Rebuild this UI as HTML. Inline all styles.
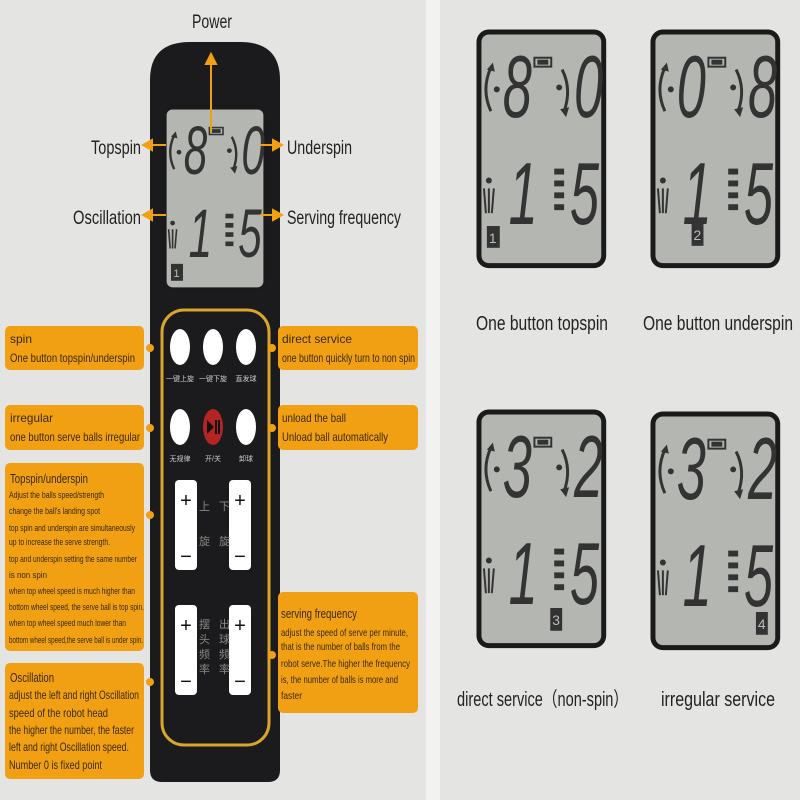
<!DOCTYPE html>
<html><head><meta charset="utf-8"><style>
body{margin:0;width:800px;height:800px;background:#e4e4e2;position:relative;overflow:hidden;font-family:"Liberation Sans","Noto Sans CJK SC",sans-serif}
.abs{position:absolute}
</style></head><body>
<div class="abs" style="left:426px;top:0;width:14px;height:800px;background:#f2f2f0"></div>

<svg class="abs" style="left:0;top:0" width="800" height="800" font-family="Liberation Sans, Noto Sans CJK SC, sans-serif">
<defs>
<g id="lcdbase">
<rect x="2" y="2" width="126" height="236" rx="10" fill="#b4b6b2" stroke="#1a1a1a" stroke-width="5"/>
<rect x="58" y="28" width="17" height="9" fill="none" stroke="#333" stroke-width="2"/>
<rect x="61" y="30" width="11" height="5" fill="#333"/>
<path d="M14 82 Q4 60 14 38" stroke="#333" stroke-width="3" fill="none"/>
<path d="M10 40 L16 33 L18 42z" fill="#333"/>
<circle cx="20" cy="60" r="3" fill="#333"/>
<path d="M86 40 Q96 60 88 82" stroke="#333" stroke-width="3" fill="none"/>
<path d="M84 80 L90 88 L93 78z" fill="#333"/>
<circle cx="83" cy="58" r="3" fill="#333"/>
<circle cx="12" cy="152" r="3" fill="#333"/>
<path d="M7 160 L9 185 M12 160 L12 185 M17 160 L15 185" stroke="#333" stroke-width="2"/>
<path d="M78 140h10v6h-10zM78 152h10v6h-10zM78 164h10v6h-10zM78 176h10v6h-10z" fill="#333"/>
</g>
</defs>

<path d="M150 80 Q150 42 190 42 L240 42 Q280 42 280 80 L280 770 Q280 782 268 782 L162 782 Q150 782 150 770Z" fill="#1b1b1d"/>
<rect x="162" y="310" width="107" height="435" rx="22" fill="none" stroke="#d9a62a" stroke-width="3"/>

<g transform="translate(163,106) scale(0.8,0.77)">
<use href="#lcdbase"/>
<text transform="translate(26,88) scale(0.8,1.35)" font-size="66" font-style="italic" fill="#333">8</text>
<text transform="translate(98,88) scale(0.8,1.35)" font-size="66" font-style="italic" fill="#333">0</text>
<text transform="translate(32,196) scale(0.8,1.35)" font-size="66" font-style="italic" fill="#333">1</text>
<text transform="translate(94,196) scale(0.8,1.35)" font-size="66" font-style="italic" fill="#333">5</text>
<rect x="10" y="205" width="15" height="22" fill="#333"/><text x="13" y="222" font-size="14" fill="#bbb">1</text>
</g>

<g stroke="#f0a012" stroke-width="2" fill="#f0a012">
<line x1="211" y1="132" x2="211" y2="62"/><path d="M206 64 L211 54 L216 64z"/>
<line x1="166" y1="145" x2="152" y2="145"/><path d="M152 140 L143 145 L152 150z"/>
<line x1="260" y1="145" x2="275" y2="145"/><path d="M273 140 L282 145 L273 150z"/>
<line x1="166" y1="215" x2="152" y2="215"/><path d="M152 210 L143 215 L152 220z"/>
<line x1="260" y1="215" x2="275" y2="215"/><path d="M273 210 L282 215 L273 220z"/>
</g>
<g fill="#f0a012">
<circle cx="150" cy="348" r="4"/><circle cx="272" cy="348" r="4"/>
<circle cx="150" cy="428" r="4"/><circle cx="272" cy="428" r="4"/>
<circle cx="150" cy="515" r="4"/><circle cx="150" cy="682" r="4"/><circle cx="272" cy="655" r="4"/>
</g>

<g fill="#fff">
<ellipse cx="180" cy="347" rx="10" ry="18"/><ellipse cx="213" cy="347" rx="10" ry="18"/><ellipse cx="246" cy="347" rx="10" ry="18"/>
<ellipse cx="180" cy="427" rx="10" ry="18"/><ellipse cx="246" cy="427" rx="10" ry="18"/>
</g>
<ellipse cx="213" cy="427" rx="10" ry="18" fill="#b52424"/>
<path d="M207 420 L214 427 L207 434z" fill="#111"/><rect x="215" y="420" width="2" height="14" fill="#111"/><rect x="218" y="420" width="2" height="14" fill="#111"/>
<g fill="#ccc" font-size="7" text-anchor="middle">
<text x="180" y="381">一键上旋</text><text x="213" y="381">一键下旋</text><text x="246" y="381">直发球</text>
<text x="180" y="461">无规律</text><text x="213" y="461">开/关</text><text x="246" y="461">卸球</text>
</g>
<g fill="#fff">
<rect x="175" y="480" width="22" height="90" rx="4"/><rect x="229" y="480" width="22" height="90" rx="4"/>
<rect x="175" y="605" width="22" height="90" rx="4"/><rect x="229" y="605" width="22" height="90" rx="4"/>
</g>
<g fill="#111" font-size="20" text-anchor="middle">
<text x="186" y="507">+</text><text x="240" y="507">+</text><text x="186" y="632">+</text><text x="240" y="632">+</text>
<text x="186" y="563">−</text><text x="240" y="563">−</text><text x="186" y="688">−</text><text x="240" y="688">−</text>
</g>
<g fill="#888" font-size="11">
<text x="199" y="510">上</text><text x="199" y="545">旋</text><text x="219" y="510">下</text><text x="219" y="545">旋</text>
<text x="199" y="628">摆</text><text x="199" y="643">头</text><text x="199" y="658">频</text><text x="199" y="673">率</text>
<text x="219" y="628">出</text><text x="219" y="643">球</text><text x="219" y="658">频</text><text x="219" y="673">率</text>
</g>

<g transform="translate(477,30) scale(0.99,0.99)">
<use href="#lcdbase"/>
<text transform="translate(26,88) scale(0.8,1.35)" font-size="66" font-style="italic" fill="#333">8</text>
<text transform="translate(98,88) scale(0.8,1.35)" font-size="66" font-style="italic" fill="#333">0</text>
<text transform="translate(32,196) scale(0.8,1.35)" font-size="66" font-style="italic" fill="#333">1</text>
<text transform="translate(94,196) scale(0.8,1.35)" font-size="66" font-style="italic" fill="#333">5</text>
<rect x="10" y="198" width="13" height="22" fill="#333"/><text x="12" y="215" font-size="14" fill="#bbb">1</text>
</g>
<g transform="translate(651,30) scale(0.99,0.99)">
<use href="#lcdbase"/>
<text transform="translate(26,88) scale(0.8,1.35)" font-size="66" font-style="italic" fill="#333">0</text>
<text transform="translate(98,88) scale(0.8,1.35)" font-size="66" font-style="italic" fill="#333">8</text>
<text transform="translate(32,196) scale(0.8,1.35)" font-size="66" font-style="italic" fill="#333">1</text>
<text transform="translate(94,196) scale(0.8,1.35)" font-size="66" font-style="italic" fill="#333">5</text>
<rect x="41" y="194" width="12" height="24" fill="#333"/><text x="43" y="212" font-size="14" fill="#bbb">2</text>
</g>
<g transform="translate(477,410) scale(0.99,0.99)">
<use href="#lcdbase"/>
<text transform="translate(26,88) scale(0.8,1.35)" font-size="66" font-style="italic" fill="#333">3</text>
<text transform="translate(98,88) scale(0.8,1.35)" font-size="66" font-style="italic" fill="#333">2</text>
<text transform="translate(32,196) scale(0.8,1.35)" font-size="66" font-style="italic" fill="#333">1</text>
<text transform="translate(94,196) scale(0.8,1.35)" font-size="66" font-style="italic" fill="#333">5</text>
<rect x="74" y="200" width="12" height="23" fill="#333"/><text x="76" y="217" font-size="14" fill="#bbb">3</text>
</g>
<g transform="translate(651,412) scale(0.99,0.99)">
<use href="#lcdbase"/>
<text transform="translate(26,88) scale(0.8,1.35)" font-size="66" font-style="italic" fill="#333">3</text>
<text transform="translate(98,88) scale(0.8,1.35)" font-size="66" font-style="italic" fill="#333">2</text>
<text transform="translate(32,196) scale(0.8,1.35)" font-size="66" font-style="italic" fill="#333">1</text>
<text transform="translate(94,196) scale(0.8,1.35)" font-size="66" font-style="italic" fill="#333">5</text>
<rect x="106" y="202" width="12" height="23" fill="#333"/><text x="108" y="219" font-size="14" fill="#bbb">4</text>
</g>

<!-- labels -->
<g fill="#222" font-size="19" lengthAdjust="spacingAndGlyphs">
<text x="192" y="28" textLength="40" lengthAdjust="spacingAndGlyphs">Power</text>
<text x="91" y="154" textLength="50" lengthAdjust="spacingAndGlyphs">Topspin</text>
<text x="287" y="154" textLength="65" lengthAdjust="spacingAndGlyphs">Underspin</text>
<text x="73" y="224" textLength="68" lengthAdjust="spacingAndGlyphs">Oscillation</text>
<text x="287" y="224" textLength="114" lengthAdjust="spacingAndGlyphs">Serving frequency</text>
</g>
<g fill="#222" font-size="20">
<text x="476" y="330" textLength="132" lengthAdjust="spacingAndGlyphs">One button topspin</text>
<text x="643" y="330" textLength="150" lengthAdjust="spacingAndGlyphs">One button underspin</text>
<text x="457" y="706" textLength="171" lengthAdjust="spacingAndGlyphs">direct service（non-spin）</text>
<text x="661" y="706" textLength="114" lengthAdjust="spacingAndGlyphs">irregular service</text>
</g>

<!-- boxes -->
<g fill="#f0a012">
<rect x="5" y="326" width="139" height="44" rx="5"/>
<rect x="278" y="326" width="140" height="44" rx="5"/>
<rect x="5" y="405" width="139" height="45" rx="5"/>
<rect x="278" y="405" width="140" height="45" rx="5"/>
<rect x="5" y="463" width="139" height="188" rx="5"/>
<rect x="5" y="663" width="139" height="116" rx="5"/>
<rect x="278" y="592" width="140" height="121" rx="5"/>
</g>
<g fill="#3a2a10" font-size="12">
<text x="10" y="343">spin</text>
<text x="10" y="362" textLength="125" lengthAdjust="spacingAndGlyphs">One button topspin/underspin</text>
<text x="282" y="343" textLength="70" lengthAdjust="spacingAndGlyphs">direct service</text>
<text x="282" y="362" textLength="133" lengthAdjust="spacingAndGlyphs">one button quickly turn to non spin</text>
<text x="10" y="422" textLength="43" lengthAdjust="spacingAndGlyphs">irregular</text>
<text x="10" y="441" textLength="130" lengthAdjust="spacingAndGlyphs">one button serve balls irregular</text>
<text x="282" y="422" textLength="64" lengthAdjust="spacingAndGlyphs">unload the ball</text>
<text x="282" y="441" textLength="106" lengthAdjust="spacingAndGlyphs">Unload ball automatically</text>
<text x="10" y="483" font-size="13" textLength="78" lengthAdjust="spacingAndGlyphs">Topspin/underspin</text>
<text x="10" y="682" font-size="13" textLength="44" lengthAdjust="spacingAndGlyphs">Oscillation</text>
<text x="281" y="618" font-size="13" textLength="76" lengthAdjust="spacingAndGlyphs">serving frequency</text>
</g>
<g fill="#3a2a10" font-size="9">
<text x="9" y="498" textLength="95" lengthAdjust="spacingAndGlyphs">Adjust the balls speed/strength</text>
<text x="9" y="514" textLength="91" lengthAdjust="spacingAndGlyphs">change the ball's landing spot</text>
<text x="9" y="531" textLength="126" lengthAdjust="spacingAndGlyphs">top spin and underspin are simultaneously</text>
<text x="9" y="545" textLength="101" lengthAdjust="spacingAndGlyphs">up to increase the serve strength.</text>
<text x="9" y="562" textLength="128" lengthAdjust="spacingAndGlyphs">top and underspin setting the same number</text>
<text x="9" y="578" textLength="38" lengthAdjust="spacingAndGlyphs">is non spin</text>
<text x="9" y="594" textLength="126" lengthAdjust="spacingAndGlyphs">when top wheel speed is much higher than</text>
<text x="9" y="610" textLength="135" lengthAdjust="spacingAndGlyphs">bottom wheel speed, the serve ball is top spin.</text>
<text x="9" y="626" textLength="117" lengthAdjust="spacingAndGlyphs">when top wheel speed much lower than</text>
<text x="9" y="643" textLength="134" lengthAdjust="spacingAndGlyphs">bottom wheel speed,the serve ball is under spin.</text>
</g>
<g fill="#3a2a10" font-size="12">
<text x="9" y="699" textLength="130" lengthAdjust="spacingAndGlyphs">adjust the left and right Oscillation</text>
<text x="9" y="717" textLength="99" lengthAdjust="spacingAndGlyphs">speed of the robot head</text>
<text x="9" y="734" textLength="125" lengthAdjust="spacingAndGlyphs">the higher the number, the faster</text>
<text x="9" y="751" textLength="120" lengthAdjust="spacingAndGlyphs">left and right Oscillation speed.</text>
<text x="9" y="769" textLength="93" lengthAdjust="spacingAndGlyphs">Number 0 is fixed point</text>
</g>
<g fill="#3a2a10" font-size="10.5">
<text x="281" y="636" textLength="127" lengthAdjust="spacingAndGlyphs">adjust the speed of serve per minute,</text>
<text x="281" y="650" textLength="119" lengthAdjust="spacingAndGlyphs">that is the number of balls from the</text>
<text x="281" y="667" textLength="129" lengthAdjust="spacingAndGlyphs">robot serve.The higher the frequency</text>
<text x="281" y="683" textLength="117" lengthAdjust="spacingAndGlyphs">is, the number of balls is more and</text>
<text x="281" y="699" textLength="21" lengthAdjust="spacingAndGlyphs">faster</text>
</g>
</svg>
</body></html>
